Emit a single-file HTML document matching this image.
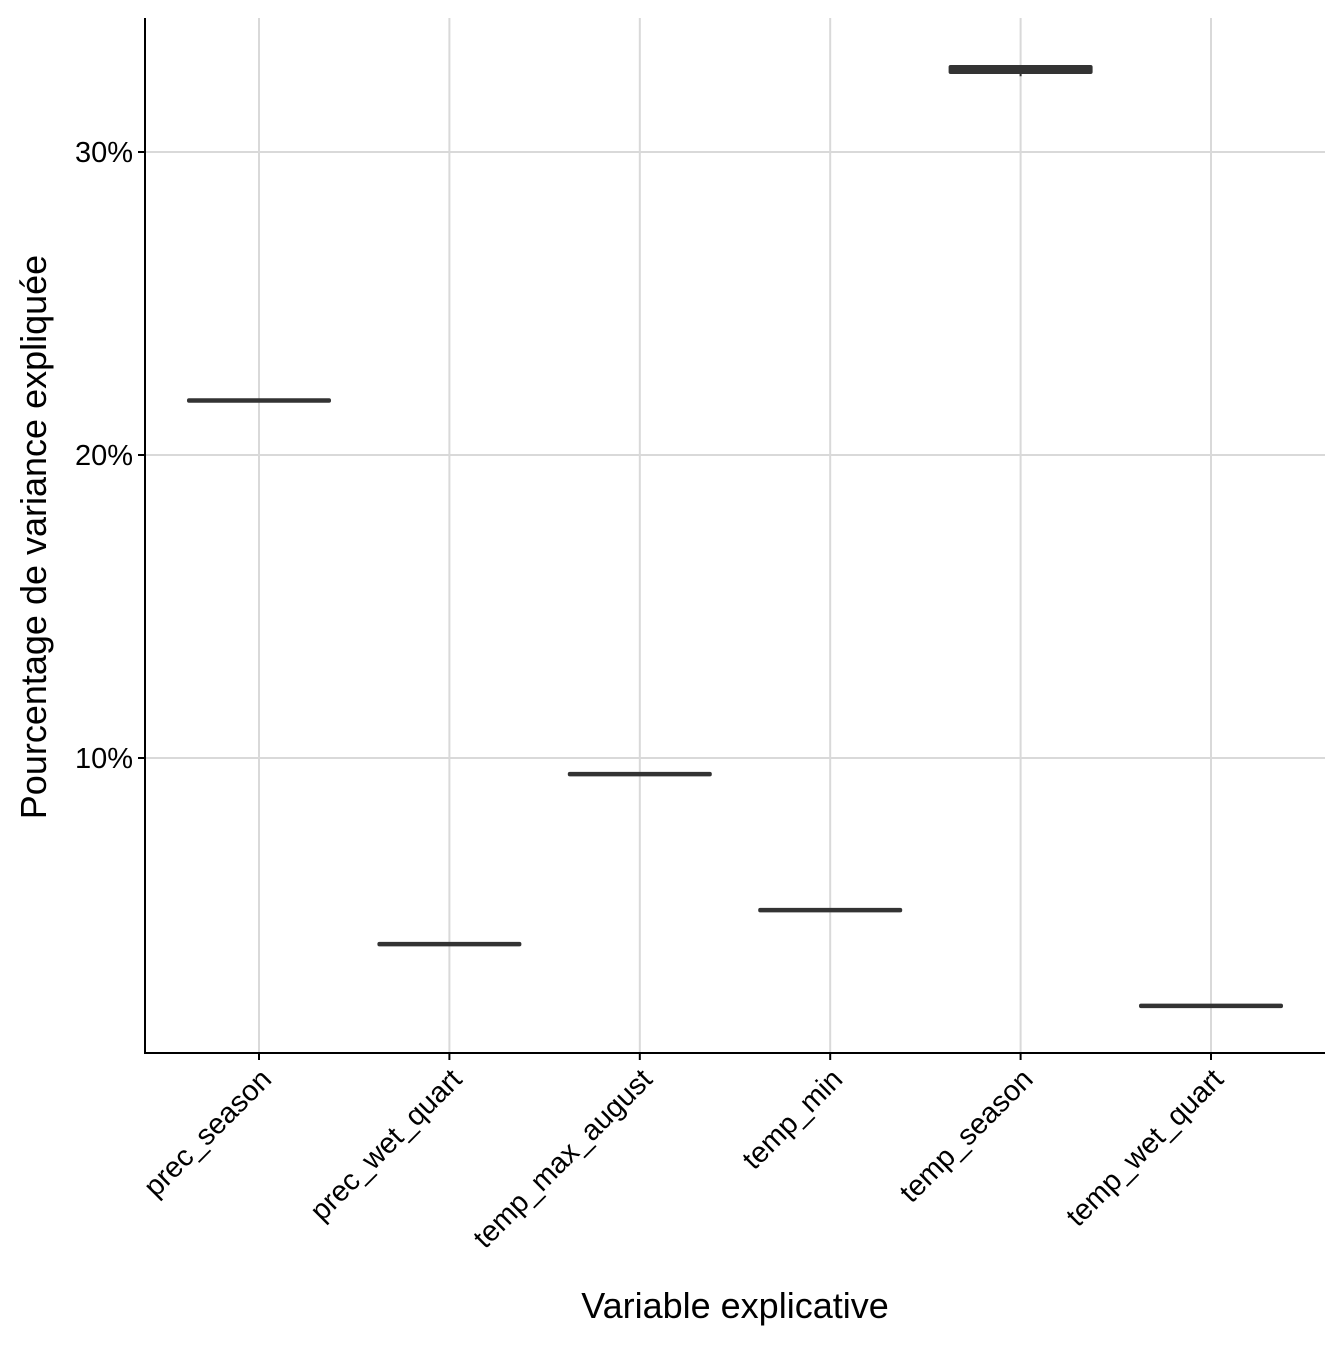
<!DOCTYPE html>
<html><head><meta charset="utf-8"><style>
body{margin:0;background:#fff}
text{font-family:"Liberation Sans",Arial,sans-serif}
</style></head><body>
<svg id="chart" width="1344" height="1344" xmlns="http://www.w3.org/2000/svg">
<g id="grid"></g>
<g id="marks"></g>
<g id="axes"></g>
<text x="735" y="1318" font-size="36" text-anchor="middle" fill="#000">Variable explicative</text>
<text transform="translate(46,537) rotate(-90)" font-size="36" text-anchor="middle" fill="#000">Pourcentage de variance expliquée</text>
</svg>
<script>
const categories = ["prec_season","prec_wet_quart","temp_max_august","temp_min","temp_season","temp_wet_quart"];
const lowValues = [21.8, 3.86, 9.47, 4.98, 32.5, 1.82];
const medValues = [21.8, 3.86, 9.47, 4.98, 32.7, 1.82];
const highValues = [21.8, 3.86, 9.47, 4.98, 32.8, 1.82];
const yTicks = [10, 20, 30];
const yTickLabels = ["10%","20%","30%"];

const L=145,R=1325,T=18,B=1053;
const y=v=>1061-v*30.3;
const step=190.4;
const x=i=>259+step*i;
const NS="http://www.w3.org/2000/svg";
function mk(tag,attrs,parent){const e=document.createElementNS(NS,tag);for(const k in attrs)e.setAttribute(k,attrs[k]);parent.appendChild(e);return e;}
const grid=document.getElementById('grid'),marks=document.getElementById('marks'),axes=document.getElementById('axes');

yTicks.forEach((t,i)=>{
  const g=mk('line',{x1:L,x2:R,y1:y(t),y2:y(t),stroke:'#d9d9d9','stroke-width':2},grid);
  
  
  const tk=mk('line',{x1:L-7,x2:L,y1:y(t),y2:y(t),stroke:'#000','stroke-width':2},axes);
  
  
  const lb=mk('text',{x:L-12,y:y(t)+10,'font-size':29,'text-anchor':'end',fill:'#000'},axes);
  lb.textContent=yTickLabels[i];
  
  
});
categories.forEach((c,i)=>{
  const g=mk('line',{x1:x(i),x2:x(i),y1:T,y2:B,stroke:'#d9d9d9','stroke-width':2},grid);
  
  
  const tk=mk('line',{x1:x(i),x2:x(i),y1:B,y2:B+7,stroke:'#000','stroke-width':2},axes);
  
  
  const lb=mk('text',{transform:`translate(${x(i)+14},${B+28}) rotate(-45)`,'font-size':29,'text-anchor':'end',fill:'#000'},axes);
  lb.textContent=c;
  
  
  const w=144;
  const wh=mk('line',{x1:x(i),x2:x(i),y1:y(highValues[i]),y2:y(lowValues[i]),stroke:'#333','stroke-width':2},marks);
  
  
  const top=y(Math.min(highValues[i],medValues[i]+0.1)),bot=y(Math.max(lowValues[i],medValues[i]-0.05));
  const box=mk('rect',{x:x(i)-w/2,y:Math.min(top,bot)-2.2,width:w,height:Math.abs(bot-top)+4.5,fill:'#333',rx:2},marks);
  
  
});
const ya=mk('line',{x1:L,x2:L,y1:T,y2:B,stroke:'#000','stroke-width':2},axes);


const xa=mk('line',{x1:L-1,x2:R,y1:B,y2:B,stroke:'#000','stroke-width':2},axes);


</script>
</body></html>
